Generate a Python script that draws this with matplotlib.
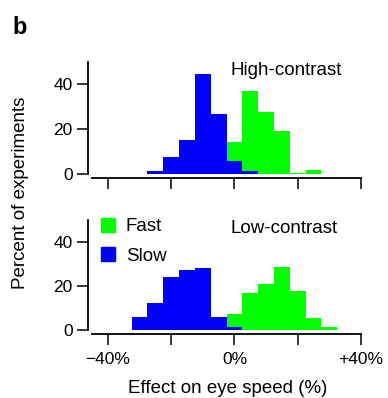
"""Histograms of eye-speed effect for fast vs slow trials (panel b)."""

import matplotlib

matplotlib.use("Agg")
import matplotlib.pyplot as plt
from matplotlib.patches import Patch

plt.rcParams["font.family"] = ["Liberation Sans", "DejaVu Sans"]

# Bin centres (percent effect on eye speed), 5 % wide bins
bin_centers = [-30, -25, -20, -15, -10, -5, 0, 5, 10, 15, 20, 25, 30]

# Percent of experiments per bin
high_slow = [0, 1.5, 7.8, 15.2, 44.4, 26.8, 5.9, 1.6, 0, 0, 0, 0, 0]
high_fast = [0, 0, 0, 0, 0, 0, 14.2, 37.0, 27.8, 19.4, 0.7, 1.9, 0]
low_slow = [5.8, 12.1, 24.0, 27.3, 28.2, 5.8, 1.5, 0, 0, 0, 0, 0, 0]
low_fast = [0, 0, 0, 0, 0, 0, 7.4, 16.7, 20.8, 28.8, 17.7, 5.3, 1.5]

x_ticks = [-40, -20, 0, 20, 40]
x_ticklabels = ["\u221240%", "", "0%", "", "+40%"]
y_ticks = [0, 20, 40]

FAST = "#00ff00"
SLOW = "#0000ff"

W, H = 388, 398
fig = plt.figure(figsize=(W / 100, H / 100), dpi=100)


def px_axes(left, top, right, bottom):
    return fig.add_axes([left / W, 1 - bottom / H, (right - left) / W, (bottom - top) / H])


ax_hi = px_axes(88, 61.8, 367.3, 174.3)
ax_lo = px_axes(88, 220, 367.3, 330)

for ax, slow, fast, title in [
    (ax_hi, high_slow, high_fast, "High-contrast"),
    (ax_lo, low_slow, low_fast, "Low-contrast"),
]:
    ax.bar(bin_centers, fast, width=5, color=FAST, linewidth=0)
    ax.bar(bin_centers, slow, width=5, color=SLOW, linewidth=0)

    ax.set_xlim(-46.3, 42)
    ax.set_ylim(0, 50)
    ax.set_xticks(x_ticks)
    ax.set_yticks(y_ticks)
    ax.spines["top"].set_visible(False)
    ax.spines["right"].set_visible(False)
    ax.spines["bottom"].set_position(("outward", 3))
    ax.spines["bottom"].set_bounds(-45, 40)
    ax.spines["left"].set_bounds(0, 50)
    for s in ("left", "bottom"):
        ax.spines[s].set_linewidth(1.3)
    ax.tick_params(length=8, width=1.1, labelsize=12.5)
    ax.tick_params(axis="x", pad=5)
    ax.tick_params(axis="y", pad=3)

    ax.text(0.51, 0.92, title, transform=ax.transAxes, fontsize=13.5, va="center")

ax_hi.set_xticklabels([])
ax_lo.set_xticklabels(x_ticklabels)
ax_lo.set_xlabel("Effect on eye speed (%)", fontsize=13.5, labelpad=9)

ax_lo.legend(
    handles=[Patch(color=FAST, label="Fast"), Patch(color=SLOW, label="Slow")],
    loc="upper left",
    bbox_to_anchor=(0.021, 1.09),
    frameon=False,
    fontsize=13.5,
    handlelength=0.75,
    handleheight=0.8,
    handletextpad=0.55,
    labelspacing=0.62,
    borderpad=0.2,
    borderaxespad=0.2,
)

fig.text(21 / W, 1 - 193 / H, "Percent of experiments", rotation=90,
         ha="center", va="center", fontsize=13.5)
fig.text(12 / W, 1 - 27 / H, "b", fontsize=17, fontweight="bold", ha="left", va="center")

fig.savefig("out.png", dpi=100)
